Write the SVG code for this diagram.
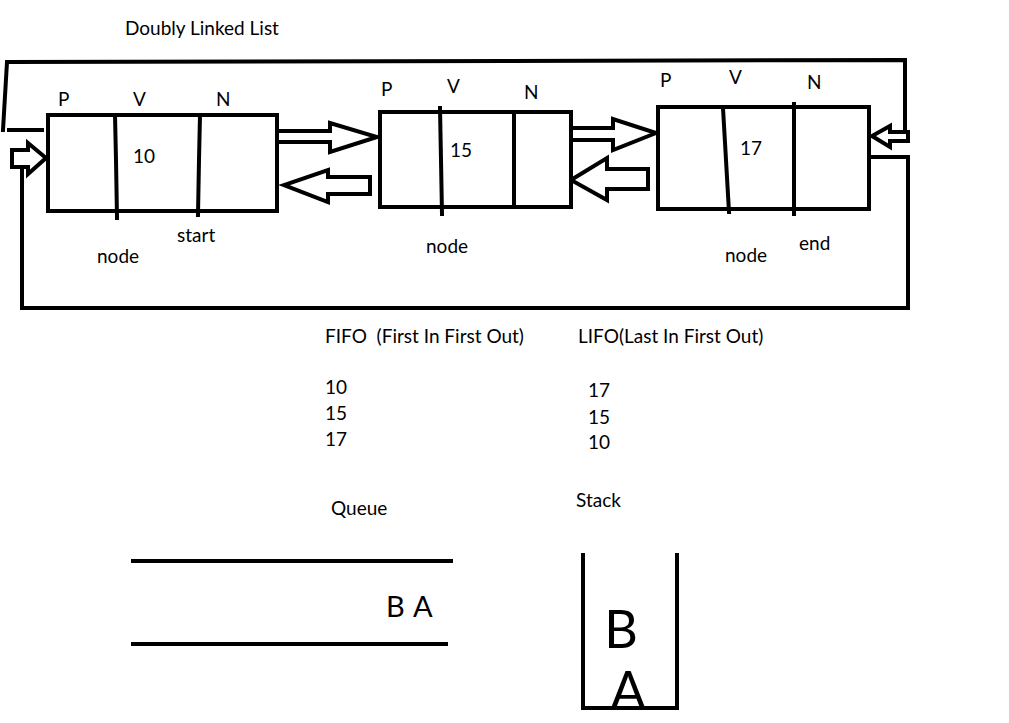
<svg xmlns="http://www.w3.org/2000/svg" width="1009" height="723" viewBox="0 0 1009 723">
<style>
.t{font-family:Lato,"Open Sans","Liberation Sans",sans-serif;font-size:19px;fill:#000}
.box{fill:#fff;stroke:#000;stroke-width:4}
.ln{fill:none;stroke:#000;stroke-width:4;stroke-linejoin:miter;stroke-linecap:square}
.arr{fill:#fff;stroke:#000;stroke-width:4;stroke-linejoin:miter}
.big{font-size:52px}
.mid{font-size:29px}
</style>
<rect x="0" y="0" width="1009" height="723" fill="#fff"/>
<text class="t" x="125" y="35">Doubly Linked List</text>

<g id="connectors">
  <polyline class="ln" points="3,130 7,62 905,60 905,138"/>
  <line class="ln" x1="9" y1="130" x2="42" y2="130"/>
  <polyline class="ln" points="22,160 22,308 908,308 908,157 869,157"/>
  <polygon class="arr" points="12,150 28,150 28,143 46,158 28,174 28,167 12,167"/>
  <polygon class="arr" points="908,132 890,132 890,126 872,136 890,147 890,141 908,141"/>
  <polyline class="arr" points="278,131 330,131 330,123 377,137 330,152 330,142 278,142"/>
  <polygon class="arr" points="370,177 328,177 328,170 284,185 328,202 328,194 370,194"/>
  <polyline class="arr" points="572,128 613,128 613,119 656,133 613,150 613,140 572,140"/>
  <polygon class="arr" points="648,169 607,169 607,158 571,180 607,200 607,189 648,189"/>
</g>

<g id="node1">
  <rect class="box" x="48" y="115" width="229" height="96"/>
  <polyline class="ln" points="115,115 116,160 117,218"/>
  <polyline class="ln" points="200,115 199,160 198,215"/>
  <text class="t" x="58" y="106">P</text>
  <text class="t" x="133" y="106">V</text>
  <text class="t" x="216" y="106">N</text>
  <text class="t" x="133" y="163">10</text>
  <text class="t" x="177" y="242">start</text>
  <text class="t" x="97" y="263">node</text>
</g>

<g id="node2">
  <rect class="box" x="380" y="112" width="191" height="95"/>
  <polyline class="ln" points="440,108 441,160 442,214"/>
  <line class="ln" x1="514" y1="112" x2="514" y2="207"/>
  <text class="t" x="381" y="96">P</text>
  <text class="t" x="447" y="93">V</text>
  <text class="t" x="524" y="99">N</text>
  <text class="t" x="450" y="157">15</text>
  <text class="t" x="426" y="253">node</text>
</g>

<g id="node3">
  <rect class="box" x="658" y="107" width="211" height="102"/>
  <line class="ln" x1="723" y1="108" x2="729" y2="212"/>
  <line class="ln" x1="794" y1="104" x2="794" y2="214"/>
  <text class="t" x="660" y="87">P</text>
  <text class="t" x="729" y="84">V</text>
  <text class="t" x="807" y="89">N</text>
  <text class="t" x="740" y="155">17</text>
  <text class="t" x="725" y="262">node</text>
  <text class="t" x="799" y="250">end</text>
</g>

<g id="fifo">
  <text class="t" x="325" y="343" xml:space="preserve">FIFO  (First In First Out)</text>
  <text class="t" x="325" y="394">10</text>
  <text class="t" x="325" y="420">15</text>
  <text class="t" x="325" y="446">17</text>
  <text class="t" x="331" y="515">Queue</text>
</g>

<g id="lifo">
  <text class="t" x="578" y="343">LIFO(Last In First Out)</text>
  <text class="t" x="588" y="397">17</text>
  <text class="t" x="588" y="424">15</text>
  <text class="t" x="588" y="449">10</text>
  <text class="t" x="576" y="507">Stack</text>
</g>

<g id="queue">
  <line class="ln" x1="133" y1="561" x2="451" y2="561"/>
  <line class="ln" x1="133" y1="644" x2="446" y2="644"/>
  <text class="t mid" x="386" y="617">B</text>
  <text class="t mid" x="413" y="617">A</text>
</g>

<g id="stack">
  <polyline class="ln" points="583,555 583,708 677,708 677,555"/>
  <text class="t big" x="621" y="648" text-anchor="middle">B</text>
  <text class="t big" x="628" y="709" text-anchor="middle">A</text>
</g>
</svg>
